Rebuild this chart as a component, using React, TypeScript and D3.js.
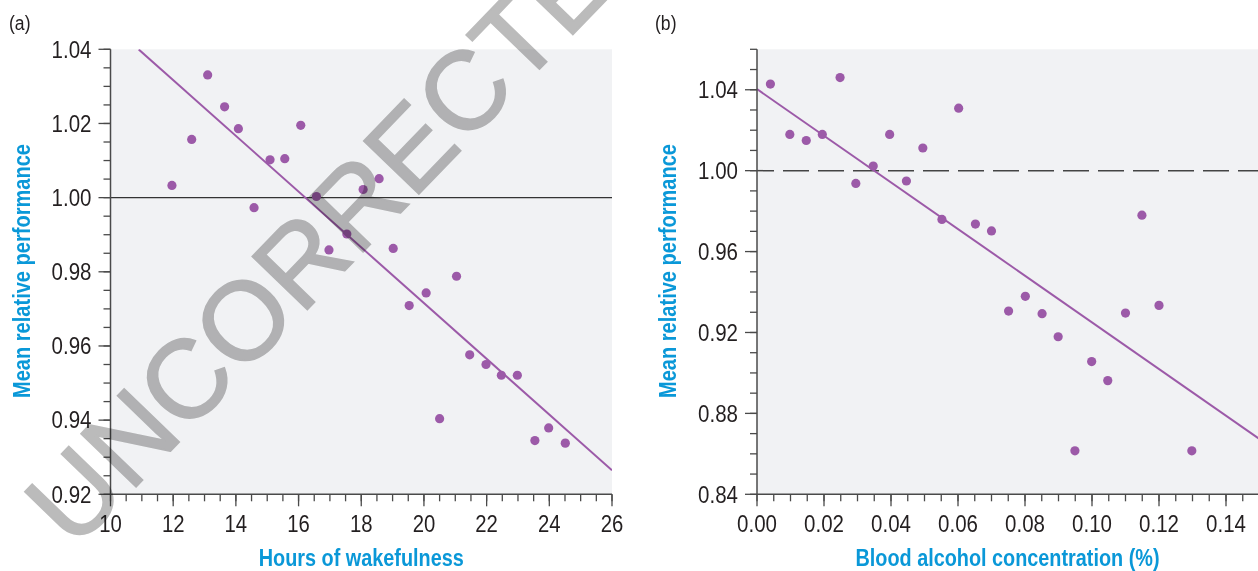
import React from "react";
import * as d3 from "d3";

// ---- Panel (a): hours of wakefulness ----
const hoursX = [11.96, 12.59, 13.10, 13.64, 14.08, 14.58, 15.09, 15.56, 16.07, 16.57, 16.97, 17.54, 18.06, 18.57, 19.02, 19.53, 20.07, 20.50, 21.04, 21.46, 21.98, 22.47, 22.98, 23.54, 23.98, 24.51];
const hoursY = [1.0033, 1.0157, 1.0331, 1.0245, 1.0186, 0.9973, 1.0102, 1.0105, 1.0195, 1.0003, 0.9859, 0.9902, 1.0022, 1.0051, 0.9863, 0.9709, 0.9743, 0.9404, 0.9788, 0.9576, 0.9550, 0.9521, 0.9521, 0.9345, 0.9379, 0.9338];
const hoursFit = { intercept: 1.1219, slope: -0.007517, from: 10.9, to: 26 };
const hoursXTicks = [10, 12, 14, 16, 18, 20, 22, 24, 26];
const hoursYTicks = [0.92, 0.94, 0.96, 0.98, 1.0, 1.02, 1.04];

// ---- Panel (b): blood alcohol concentration ----
const bacX = [0.0040, 0.0098, 0.0147, 0.0195, 0.0248, 0.0295, 0.0347, 0.0396, 0.0446, 0.0495, 0.0552, 0.0602, 0.0652, 0.0700, 0.0751, 0.0801, 0.0851, 0.0899, 0.0949, 0.0999, 0.1047, 0.1100, 0.1149, 0.1200, 0.1298];
const bacY = [1.0428, 1.0179, 1.0149, 1.0179, 1.0460, 0.9937, 1.0023, 1.0179, 0.9949, 1.0112, 0.9759, 1.0309, 0.9736, 0.9702, 0.9306, 0.9379, 0.9293, 0.9179, 0.8615, 0.9056, 0.8962, 0.9296, 0.9780, 0.9334, 0.8615];
const bacFit = { intercept: 1.0403, slope: -1.153, from: 0, to: 0.15 };
const bacXTicks = [0.0, 0.02, 0.04, 0.06, 0.08, 0.1, 0.12, 0.14];
const bacYTicks = [0.84, 0.88, 0.92, 0.96, 1.0, 1.04];

const FONT = "'Liberation Sans', Arial, Helvetica, sans-serif";
const PURPLE = "#9c5aa8";
const BLUE = "#0a98d8";
const AXIS = "#4a4a4a";
const TEXT = "#231f20";
const BG = "#f1f2f4";

// condensed look: squeeze regular glyphs to the reference widths
const numWidth = (s: string) =>
  s.split("").reduce((a, c) => a + (c === "." ? 6 : 11.3), 0);

type PanelProps = {
  label: string;
  xs: number[];
  ys: number[];
  fit: { intercept: number; slope: number; from: number; to: number };
  xDomain: [number, number];
  yDomain: [number, number];
  xRange: [number, number];
  yRange: [number, number];
  xTicks: number[];
  yTicks: number[];
  xMinorStep: number;
  yMinorStep: number;
  xMinorMax: number;
  xFormat: (v: number) => string;
  yFormat: (v: number) => string;
  xTitle: string;
  xTitleWidth: number;
  yTitle: string;
  yTitleWidth: number;
  yTitleX: number;
  labelX: number;
  dashedRef: boolean;
};

function Panel(p: PanelProps) {
  const x = d3.scaleLinear().domain(p.xDomain).range(p.xRange);
  const y = d3.scaleLinear().domain(p.yDomain).range(p.yRange);
  const x0 = p.xRange[0];
  const y0 = p.yRange[0];
  const yTop = p.yRange[1];
  const xEnd = Math.min(p.xRange[1], 1258);

  const xMinor = d3.range(p.xDomain[0], p.xMinorMax + 1e-9, p.xMinorStep);
  const yMinor = d3.range(p.yDomain[0], p.yDomain[1] + 1e-9, p.yMinorStep);

  const line = d3
    .line<number>()
    .x((v) => x(v))
    .y((v) => y(p.fit.intercept + p.fit.slope * v));

  const clipId = `clip-${p.label.replace(/[()]/g, "")}`;

  return (
    <g>
      <defs>
        <clipPath id={clipId}>
          <rect x={x0} y={yTop} width={xEnd - x0} height={y0 - yTop} />
        </clipPath>
      </defs>
      <rect x={x0} y={yTop} width={xEnd - x0} height={y0 - yTop} fill={BG} />

      {/* reference line at 1.00 */}
      <line
        x1={x0}
        x2={xEnd}
        y1={y(1)}
        y2={y(1)}
        stroke={p.dashedRef ? "#444" : "#333"}
        strokeWidth={p.dashedRef ? 1.5 : 1.3}
        strokeDasharray={p.dashedRef ? "26 9" : undefined}
        strokeDashoffset={p.dashedRef ? 9 : undefined}
      />

      {/* regression line */}
      <path
        d={line([p.fit.from, p.fit.to]) || ""}
        fill="none"
        stroke={PURPLE}
        strokeWidth={2}
        clipPath={`url(#${clipId})`}
      />

      {/* points */}
      {p.xs.map((v, i) => (
        <circle key={i} cx={x(v)} cy={y(p.ys[i])} r={4.6} fill={PURPLE} />
      ))}

      {/* axes */}
      <line x1={x0} x2={x0} y1={yTop} y2={y0} stroke={AXIS} strokeWidth={1.5} />
      <line x1={x0} x2={xEnd} y1={y0} y2={y0} stroke={AXIS} strokeWidth={1.5} />

      {yMinor.map((v, i) => (
        <line key={"ym" + i} x1={x0 - 7} x2={x0} y1={y(v)} y2={y(v)} stroke={AXIS} strokeWidth={1.3} />
      ))}
      {p.yTicks.map((v, i) => {
        const s = p.yFormat(v);
        return (
          <g key={"yt" + i}>
            <line x1={x0 - 12} x2={x0} y1={y(v)} y2={y(v)} stroke={AXIS} strokeWidth={1.3} />
            <text
              x={x0 - 19 - numWidth(s)}
              y={y(v)}
              dy="0.36em"
              fontFamily={FONT}
              fontSize={23}
              fill={TEXT}
              textLength={numWidth(s)}
              lengthAdjust="spacingAndGlyphs"
            >
              {s}
            </text>
          </g>
        );
      })}

      {xMinor.map((v, i) => (
        <line key={"xm" + i} x1={x(v)} x2={x(v)} y1={y0} y2={y0 + 7} stroke={AXIS} strokeWidth={1.3} />
      ))}
      {p.xTicks.map((v, i) => {
        const s = p.xFormat(v);
        return (
          <g key={"xt" + i}>
            <line x1={x(v)} x2={x(v)} y1={y0} y2={y0 + 12} stroke={AXIS} strokeWidth={1.3} />
            <text
              x={x(v) - numWidth(s) / 2}
              y={532}
              fontFamily={FONT}
              fontSize={23}
              fill={TEXT}
              textLength={numWidth(s)}
              lengthAdjust="spacingAndGlyphs"
            >
              {s}
            </text>
          </g>
        );
      })}

      {/* titles */}
      <text
        x={(x0 + xEnd) / 2 - p.xTitleWidth / 2}
        y={566}
        fontFamily={FONT}
        fontWeight="bold"
        fontSize={23}
        fill={BLUE}
        textLength={p.xTitleWidth}
        lengthAdjust="spacingAndGlyphs"
      >
        {p.xTitle}
      </text>
      <text
        transform={`translate(${p.yTitleX},271) rotate(-90)`}
        x={-p.yTitleWidth / 2}
        fontFamily={FONT}
        fontWeight="bold"
        fontSize={23}
        fill={BLUE}
        textLength={p.yTitleWidth}
        lengthAdjust="spacingAndGlyphs"
      >
        {p.yTitle}
      </text>
      <text
        x={p.labelX}
        y={30}
        fontFamily={FONT}
        fontSize={20}
        fill={TEXT}
        textLength={21.5}
        lengthAdjust="spacingAndGlyphs"
      >
        {p.label}
      </text>
    </g>
  );
}

export default function App() {
  const f2 = d3.format(".2f");
  return (
    <svg
      width={1258}
      height={571}
      viewBox="0 0 1258 571"
      style={{ position: "absolute", left: 0, top: 0, background: "#fff" }}
    >
      <rect x={0} y={0} width={1258} height={571} fill="#fff" />
      <Panel
        label="(a)"
        xs={hoursX}
        ys={hoursY}
        fit={hoursFit}
        xDomain={[10, 26]}
        yDomain={[0.92, 1.04]}
        xRange={[110.5, 612]}
        yRange={[494.3, 49.3]}
        xTicks={hoursXTicks}
        yTicks={hoursYTicks}
        xMinorStep={0.5}
        yMinorStep={0.005}
        xMinorMax={26}
        xFormat={(v) => String(v)}
        yFormat={f2}
        xTitle="Hours of wakefulness"
        xTitleWidth={205}
        yTitle="Mean relative performance"
        yTitleWidth={254}
        yTitleX={29.5}
        labelX={9}
        dashedRef={false}
      />
      <Panel
        label="(b)"
        xs={bacX}
        ys={bacY}
        fit={bacFit}
        xDomain={[0, 0.15]}
        yDomain={[0.84, 1.06]}
        xRange={[757, 1259.5]}
        yRange={[494.3, 49.3]}
        xTicks={bacXTicks}
        yTicks={bacYTicks}
        xMinorStep={0.005}
        yMinorStep={0.01}
        xMinorMax={0.1451}
        xFormat={f2}
        yFormat={f2}
        xTitle="Blood alcohol concentration (%)"
        xTitleWidth={304}
        yTitle="Mean relative performance"
        yTitleWidth={254}
        yTitleX={676}
        labelX={655}
        dashedRef={true}
      />
      {/* watermark */}
      <text
        transform="translate(74,551) rotate(-46)"
        fontFamily={FONT}
        fontSize={111}
        fill="#bbbbbb"
        stroke="#bbbbbb"
        strokeWidth={1.8}
        style={{ mixBlendMode: "multiply" }}
      >
        UNCORRECTED
      </text>
    </svg>
  );
}
